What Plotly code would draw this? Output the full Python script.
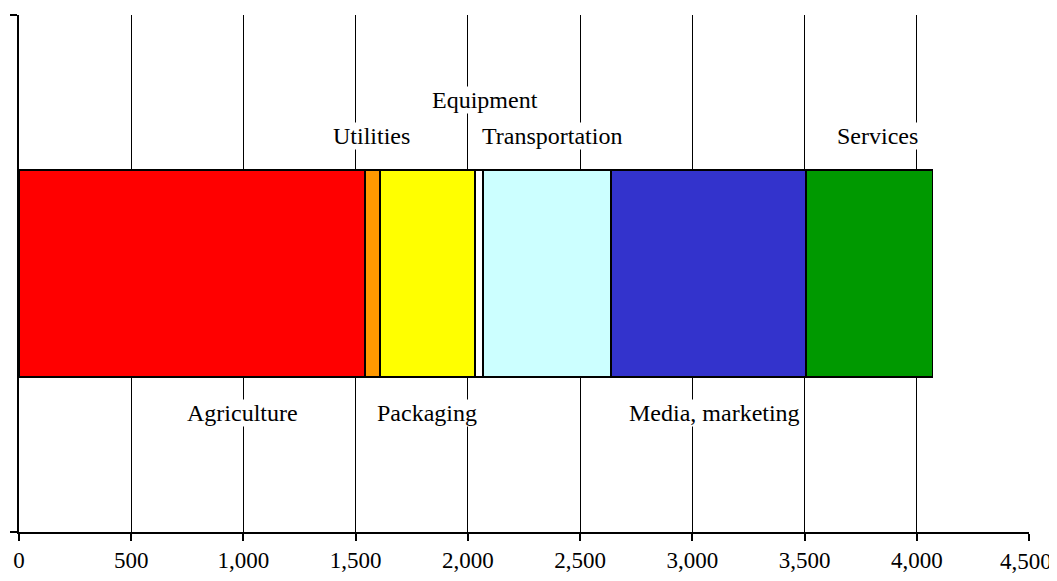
import plotly.graph_objects as go

categories = ["Agriculture", "Utilities", "Packaging", "Equipment",
              "Transportation", "Media, marketing", "Services"]
values = [1543, 67, 423, 36, 570, 869, 562]
colors = ["#FF0000", "#FF9900", "#FFFF00", "#FFFFFF", "#CCFFFF", "#3333CC", "#009900"]

# label positions (data x, paper y)
label_x = [997, 1571, 1816, 2075, 2373, 3100, 3826]
label_y = [0.230, 0.766, 0.230, 0.836, 0.766, 0.230, 0.766]

x_ticks = [0, 500, 1000, 1500, 2000, 2500, 3000, 3500, 4000, 4500]
x_ticktext = ["0", "500", "1,000", "1,500", "2,000", "2,500", "3,000", "3,500", "4,000", ""]
last_tick_label = "4,500"

FONT = "Liberation Serif, Times New Roman, serif"

fig = go.Figure()
for name, v, c in zip(categories, values, colors):
    fig.add_trace(go.Bar(
        y=[0], x=[v], name=name, orientation="h",
        marker=dict(color=c, line=dict(color="black", width=1.8)),
        hoverinfo="x+name", showlegend=False,
    ))

for name, lx, ly in zip(categories, label_x, label_y):
    fig.add_annotation(x=lx, y=ly, xref="x", yref="paper", text=name,
                       showarrow=False, font=dict(family=FONT, size=24, color="black"),
                       bgcolor="white", borderpad=0,
                       xanchor="center", yanchor="middle")

# last tick label pulled slightly inward so it is not clipped by the page edge
fig.add_annotation(x=x_ticks[-1] - 12, y=-0.058, xref="x", yref="paper",
                   text=last_tick_label, showarrow=False,
                   font=dict(family=FONT, size=23, color="black"),
                   xanchor="center", yanchor="middle")

fig.update_layout(
    barmode="stack",
    bargap=0.6,
    width=1049, height=565,
    margin=dict(l=11, r=28, t=7, b=41),
    paper_bgcolor="white", plot_bgcolor="white",
    font=dict(family=FONT, size=24, color="black"),
    xaxis=dict(range=[0, 4500], tickvals=x_ticks, ticktext=x_ticktext,
               automargin=False, ticklabeloverflow="allow",
               showgrid=True, gridcolor="black", gridwidth=1,
               showline=True, linecolor="black", linewidth=1.5,
               ticks="outside", ticklen=7, tickcolor="black", tickwidth=1.5,
               zeroline=False, tickfont=dict(family=FONT, size=23)),
    yaxis=dict(range=[-0.5, 0.5], tickvals=[-0.5, 0.5], ticktext=["", ""],
               automargin=False,
               showgrid=False, showline=True, linecolor="black", linewidth=1.5,
               ticks="outside", ticklen=7, tickcolor="black", tickwidth=1.5,
               zeroline=False),
)

fig.write_html("out.html")
